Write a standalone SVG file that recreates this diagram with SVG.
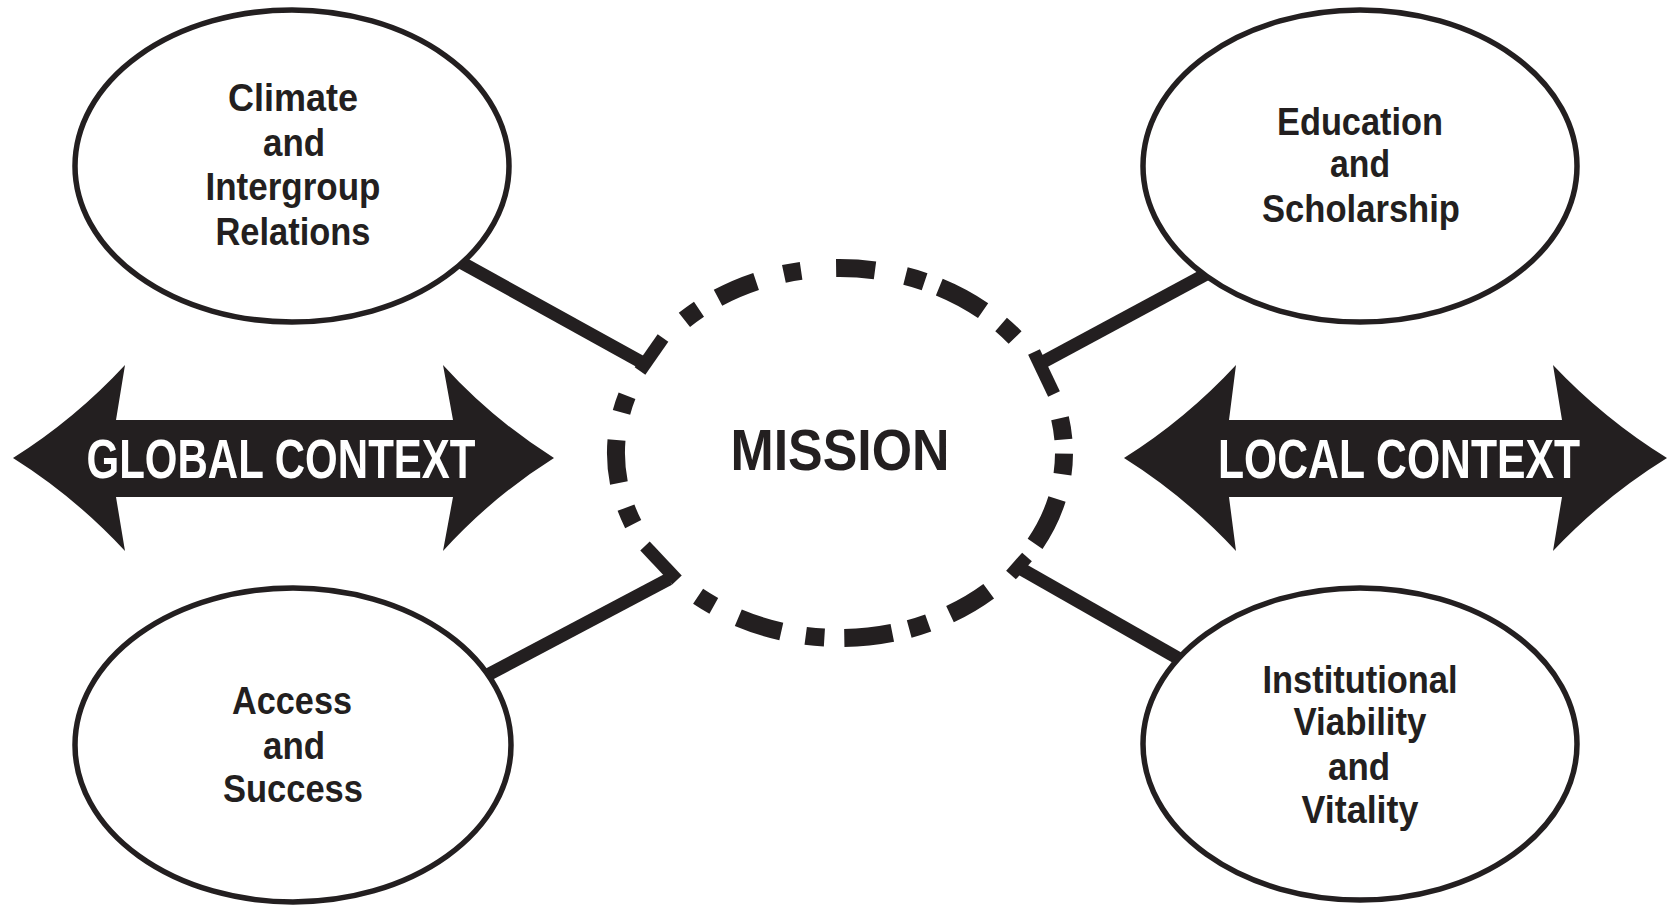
<svg xmlns="http://www.w3.org/2000/svg" width="1675" height="905" viewBox="0 0 1675 905">
<style>
.bg{fill:#ffffff}
.node ellipse{fill:#ffffff;stroke:#231f20;stroke-width:5.5}
.lbl{font-family:"Liberation Sans",Arial,sans-serif;font-weight:700;font-size:39px;fill:#231f20;text-anchor:middle}
.conn{stroke:#231f20;stroke-width:13;stroke-linecap:butt;fill:none}
.dash{stroke:#231f20;stroke-width:18;stroke-linecap:butt;fill:none}
.arrow{fill:#231f20}
.ctx{font-family:"Liberation Sans",Arial,sans-serif;font-weight:700;font-size:55px;fill:#ffffff;text-anchor:middle}
.mission{font-family:"Liberation Sans",Arial,sans-serif;font-weight:700;font-size:58px;fill:#231f20;text-anchor:middle}
</style>
<rect class="bg" x="0" y="0" width="1675" height="905"/>

<g id="connectors">
  <path class="conn" d="M455 259 L643 363"/>
  <path class="conn" d="M640 371 L663 338"/>
  <path class="conn" d="M1212 271 L1043 362"/>
  <path class="conn" d="M1034 352 L1054 394"/>
  <path class="conn" d="M478 680 L669 579"/>
  <path class="conn" d="M645 546 L677 580"/>
  <path class="conn" d="M1016 566 L1190 665"/>
  <path class="conn" d="M1027 557 L1011 575"/>
</g>

<g id="mission">
  <path class="dash" d="M836.1 268.0 A224 185 0 0 1 875.0 270.3
    M783.9 273.9 A224 185 0 0 1 801.1 270.8
    M718.0 297.8 A224 185 0 0 1 756.1 281.5
    M684.4 319.9 A224 185 0 0 1 699.0 309.2
    M621.5 412.3 A224 185 0 0 1 627.0 395.8
    M618.9 482.9 A224 185 0 0 1 616.5 440.1
    M633.2 524.1 A224 185 0 0 1 626.0 507.7
    M713.8 605.8 A224 185 0 0 1 698.1 596.2
    M781.3 631.5 A224 185 0 0 1 738.3 617.8
    M824.4 637.6 A224 185 0 0 1 805.7 635.8
    M892.3 632.9 A224 185 0 0 1 844.3 638.0
    M928.2 623.0 A224 185 0 0 1 909.2 629.0
    M988.7 591.3 A224 185 0 0 1 950.0 614.2
    M1057.0 499.0 A224 185 0 0 1 1035.1 543.8
    M1064.0 453.6 A224 185 0 0 1 1062.5 474.3
    M1060.0 418.3 A224 185 0 0 1 1063.4 439.5
    M1001.1 324.5 A224 185 0 0 1 1015.1 337.6
    M939.3 287.1 A224 185 0 0 1 983.1 310.7
    M905.5 276.1 A224 185 0 0 1 924.6 281.7"/>
  <text class="mission" x="840" y="470" textLength="219" lengthAdjust="spacingAndGlyphs">MISSION</text>
</g>

<g id="global-context">
  <path class="arrow" d="M13 458 Q75 419 125 365 L116 420 L453 420 L443 365 Q492 419 554 458 Q492 497 443 551 L453 497 L116 497 L125 551 Q75 497 13 458 Z"/>
  <text class="ctx" x="281" y="478" textLength="389" lengthAdjust="spacingAndGlyphs">GLOBAL CONTEXT</text>
</g>

<g id="local-context">
  <path class="arrow" d="M1124 458 Q1186 419 1236 365 L1229 420 L1562 420 L1553 365 Q1604 419 1667 458 Q1604 497 1553 551 L1562 497 L1229 497 L1236 551 Q1186 497 1124 458 Z"/>
  <text class="ctx" x="1399" y="478" textLength="362" lengthAdjust="spacingAndGlyphs">LOCAL CONTEXT</text>
</g>

<g id="climate" class="node">
  <ellipse cx="292" cy="166" rx="217" ry="156"/>
  <text class="lbl" x="293" y="111" textLength="130" lengthAdjust="spacingAndGlyphs">Climate</text>
  <text class="lbl" x="294" y="155.5" textLength="62" lengthAdjust="spacingAndGlyphs">and</text>
  <text class="lbl" x="293" y="200" textLength="175" lengthAdjust="spacingAndGlyphs">Intergroup</text>
  <text class="lbl" x="293" y="244.5" textLength="155" lengthAdjust="spacingAndGlyphs">Relations</text>
</g>

<g id="education" class="node">
  <ellipse cx="1360" cy="166" rx="217" ry="156"/>
  <text class="lbl" x="1360" y="135" textLength="166" lengthAdjust="spacingAndGlyphs">Education</text>
  <text class="lbl" x="1360" y="177" textLength="60" lengthAdjust="spacingAndGlyphs">and</text>
  <text class="lbl" x="1361" y="221.5" textLength="198" lengthAdjust="spacingAndGlyphs">Scholarship</text>
</g>

<g id="access" class="node">
  <ellipse cx="293" cy="745" rx="218" ry="157"/>
  <text class="lbl" x="292" y="714" textLength="120" lengthAdjust="spacingAndGlyphs">Access</text>
  <text class="lbl" x="294" y="759" textLength="62" lengthAdjust="spacingAndGlyphs">and</text>
  <text class="lbl" x="293" y="802" textLength="140" lengthAdjust="spacingAndGlyphs">Success</text>
</g>

<g id="institutional" class="node">
  <ellipse cx="1360" cy="744" rx="217" ry="156"/>
  <text class="lbl" x="1360" y="693" textLength="195" lengthAdjust="spacingAndGlyphs">Institutional</text>
  <text class="lbl" x="1360" y="735" textLength="133" lengthAdjust="spacingAndGlyphs">Viability</text>
  <text class="lbl" x="1359" y="780" textLength="62" lengthAdjust="spacingAndGlyphs">and</text>
  <text class="lbl" x="1360" y="823" textLength="117" lengthAdjust="spacingAndGlyphs">Vitality</text>
</g>
</svg>
